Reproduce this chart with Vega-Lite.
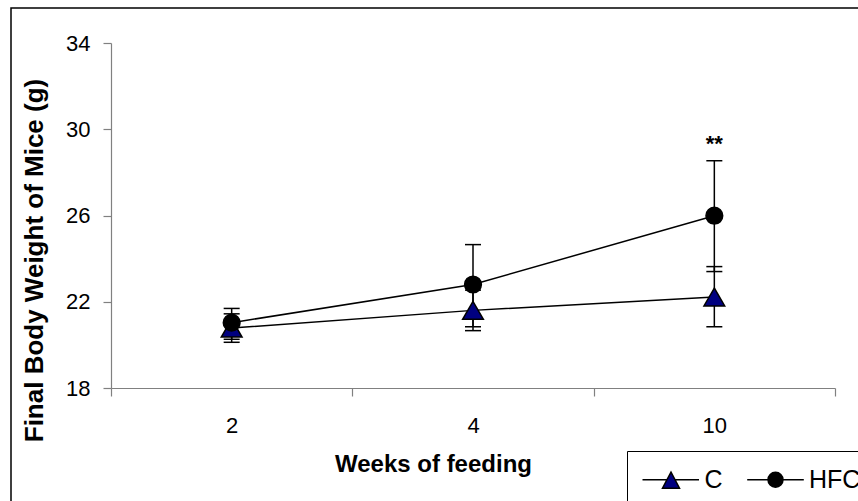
{
  "$schema": "https://vega.github.io/schema/vega-lite/v6.json",
  "width": 847,
  "height": 493,
  "autosize": {"type": "none"},
  "padding": {"left": 11, "top": 8, "right": 0, "bottom": 0},
  "background": "white",
  "config": {
    "view": {"stroke": "black", "strokeWidth": 1.5, "strokeDash": [847, 1340, 500]},
    "font": "Liberation Sans",
    "axis": {"grid": false, "domainColor": "#808080", "tickColor": "#808080", "domainWidth": 1.2, "tickWidth": 1.2, "labelColor": "black", "titleColor": "black", "labelFont": "Liberation Sans", "titleFont": "Liberation Sans"}
  },
  "data": {
    "values": [
      {"group": "C", "week": "2", "mean": 20.78, "lo": 20.12, "hi": 21.44},
      {"group": "C", "week": "4", "mean": 21.6, "lo": 20.66, "hi": 22.54},
      {"group": "C", "week": "10", "mean": 22.22, "lo": 20.84, "hi": 23.63},
      {"group": "HFC", "week": "2", "mean": 21.03, "lo": 20.26, "hi": 21.69},
      {"group": "HFC", "week": "4", "mean": 22.8, "lo": 20.84, "hi": 24.65},
      {"group": "HFC", "week": "10", "mean": 25.99, "lo": 23.4, "hi": 28.54, "sig": "**"}
    ]
  },
  "encoding": {
    "x": {
      "field": "week", "type": "ordinal", "sort": ["2", "4", "10"],
      "scale": {"domain": ["2", "4", "10"], "range": [100, 824], "paddingInner": 0, "paddingOuter": 0},
      "axis": {
        "title": "Weeks of feeding", "labelAngle": 0, "labelFontSize": 22, "labelPadding": 19,
        "tickSize": 8, "tickBand": "extent", "offset": -113,
        "titleFontSize": 24, "titleFontWeight": "bold", "titleX": 422, "titleY": 83,
        "titleBaseline": "alphabetic", "titleAlign": "center"
      }
    }
  },
  "layer": [
    {
      "mark": {"type": "line", "color": "black", "strokeWidth": 1.5},
      "encoding": {
        "y": {
          "field": "mean", "type": "quantitative",
          "scale": {"domain": [18, 34], "nice": false, "zero": false, "range": [380, 35]},
          "axis": {
            "title": "Final Body Weight of Mice (g)", "values": [18, 22, 26, 30, 34],
            "offset": -100, "tickSize": 8, "labelPadding": 13, "labelFontSize": 22,
            "titleFontSize": 26, "titleFontWeight": "bold", "titleAngle": -90,
            "titleX": -69, "titleY": 252, "titleAlign": "center", "titleBaseline": "alphabetic"
          }
        },
        "detail": {"field": "group"}
      }
    },
    {
      "mark": {"type": "rule", "color": "black", "strokeWidth": 1.5},
      "encoding": {
        "y": {"field": "lo", "type": "quantitative", "title": "Final Body Weight of Mice (g)"},
        "y2": {"field": "hi"}
      }
    },
    {
      "mark": {"type": "tick", "color": "black", "size": 16, "thickness": 1.5, "orient": "horizontal", "opacity": 1},
      "encoding": {
        "y": {"field": "lo", "type": "quantitative", "title": "Final Body Weight of Mice (g)"}
      }
    },
    {
      "mark": {"type": "tick", "color": "black", "size": 16, "thickness": 1.5, "orient": "horizontal", "opacity": 1},
      "encoding": {
        "y": {"field": "hi", "type": "quantitative", "title": "Final Body Weight of Mice (g)"}
      }
    },
    {
      "transform": [{"filter": "datum.group === 'C'"}],
      "mark": {"type": "point", "filled": true, "opacity": 1, "stroke": "black", "strokeWidth": 1.5, "shape": "triangle-up", "size": 430},
      "encoding": {
        "y": {"field": "mean", "type": "quantitative", "title": "Final Body Weight of Mice (g)"},
        "fill": {
          "field": "group", "type": "nominal",
          "scale": {"domain": ["C", "HFC"], "range": ["#000080", "#000000"]},
          "legend": {
            "title": "       ", "titleOrient": "bottom", "titleFontSize": 120, "titlePadding": 0, "titleLimit": 3000,
            "orient": "none", "legendX": 616, "legendY": 443, "direction": "horizontal",
            "strokeColor": "black", "fillColor": "white", "padding": 16,
            "symbolSize": 400, "symbolOffset": 15.5, "labelOffset": 21, "columnPadding": 20.5,
            "labelFontSize": 25, "labelFont": "Liberation Sans", "labelColor": "black",
            "symbolStrokeColor": "black", "symbolStrokeWidth": 1.5, "symbolOpacity": 1,
            "encode": {
              "legend": {"update": {"strokeWidth": {"value": 1}}},
              "symbols": {
                "update": {
                  "shape": {"signal": "datum.value === 'C' ? 'M-2.85,0H-0.4M0.4,0H2.8M0,-0.76L0.85,0.84L-0.85,0.84Z' : 'M-2.83,0H-0.75M0.75,0H2.83M0.75,0A0.75,0.75,0,1,1,-0.75,0A0.75,0.75,0,1,1,0.75,0Z'"},
                  "stroke": {"value": "black"},
                  "strokeWidth": {"value": 1.5}
                }
              }
            }
          }
        }
      }
    },
    {
      "transform": [{"filter": "datum.group === 'HFC'"}],
      "mark": {"type": "point", "filled": true, "opacity": 1, "stroke": "black", "strokeWidth": 1.5, "shape": "circle", "size": 280},
      "encoding": {
        "y": {"field": "mean", "type": "quantitative", "title": "Final Body Weight of Mice (g)"},
        "fill": {"field": "group", "type": "nominal"}
      }
    },
    {
      "transform": [{"filter": "datum.sig"}],
      "mark": {"type": "text", "fontSize": 22, "fontWeight": "bold", "baseline": "alphabetic", "dy": -10, "color": "black"},
      "encoding": {
        "y": {"field": "hi", "type": "quantitative", "title": "Final Body Weight of Mice (g)"},
        "text": {"field": "sig"}
      }
    }
  ]
}
